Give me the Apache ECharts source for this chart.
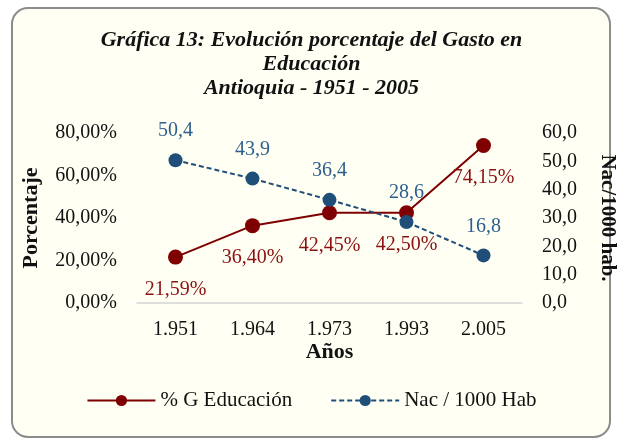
<!DOCTYPE html>
<html>
<head>
<meta charset="utf-8">
<script src="https://cdn.jsdelivr.net/npm/echarts@6/dist/echarts.min.js"></script>
<style>
  html, body { margin: 0; padding: 0; background: #fff; }
  #chart { width: 623px; height: 447px; }
</style>
</head>
<body>
<div id="chart"></div>
<script>
// datos
var years = ['1.951', '1.964', '1.973', '1.993', '2.005'];
var gastoEdu = [21.59, 36.40, 42.45, 42.50, 74.15];
var nacMil = [50.4, 43.9, 36.4, 28.6, 16.8];
var pctTicks = [0, 80, 20];   // min, max, intervalo
var nacTicks = [0, 60, 10];

var serif = '"Liberation Serif", "DejaVu Serif", serif';
var red = '#7F0000';
var blue = '#1F4E79';

function comma(v, d) {
  return v.toFixed(d).replace('.', ',');
}

var chart = echarts.init(document.getElementById('chart'));
chart.setOption({
  animation: false,
  textStyle: { fontFamily: serif },
  graphic: [{
    type: 'rect',
    z: -10,
    shape: { x: 12, y: 8, width: 598, height: 429, r: 16 },
    style: { fill: '#FFFFF4', stroke: '#8c8c8c', lineWidth: 2 }
  }],
  title: {
    text: 'Gráfica 13: Evolución porcentaje del Gasto en\nEducación\nAntioquia - 1951 - 2005',
    left: 'center',
    top: 28,
    padding: 0,
    textStyle: {
      fontFamily: serif, fontSize: 22, fontWeight: 'bold', fontStyle: 'italic',
      color: '#111', lineHeight: 24
    }
  },
  legend: {
    top: 385,
    left: 'center',
    itemWidth: 68,
    itemHeight: 14,
    itemGap: 38,
    textStyle: { fontFamily: serif, fontSize: 21, color: '#111' },
    data: ['% G Educación', 'Nac / 1000 Hab']
  },
  grid: { left: 137, right: 101, top: 133, bottom: 144, outerBoundsMode: 'none' },
  xAxis: {
    type: 'category',
    data: years,
    name: 'Años',
    nameLocation: 'middle',
    nameGap: 29,
    nameTextStyle: { fontFamily: serif, fontSize: 22, fontWeight: 'bold', color: '#111' },
    axisLine: { lineStyle: { color: '#d4d4d4', width: 1.5 } },
    axisTick: { show: false },
    axisLabel: { fontFamily: serif, fontSize: 20, color: '#111', margin: 17 }
  },
  yAxis: [{
    type: 'value',
    min: pctTicks[0], max: pctTicks[1], interval: pctTicks[2],
    name: 'Porcentaje',
    nameLocation: 'middle',
    nameGap: 95,
    nameRotate: 90,
    nameTextStyle: { fontFamily: serif, fontSize: 22, fontWeight: 'bold', color: '#111' },
    splitLine: { show: false },
    axisLine: { show: false },
    axisTick: { show: false },
    axisLabel: {
      fontFamily: serif, fontSize: 20, color: '#111', margin: 20,
      formatter: function (v) { return comma(v, 2) + '%'; }
    }
  }, {
    type: 'value',
    min: nacTicks[0], max: nacTicks[1], interval: nacTicks[2],
    name: 'Nac/1000 hab.',
    nameLocation: 'middle',
    nameGap: 75,
    nameRotate: -90,
    nameTextStyle: { fontFamily: serif, fontSize: 21, fontWeight: 'bold', color: '#111' },
    splitLine: { show: false },
    axisLine: { show: false },
    axisTick: { show: false },
    axisLabel: {
      fontFamily: serif, fontSize: 20, color: '#111', margin: 20,
      formatter: function (v) { return comma(v, 1); }
    }
  }],
  series: [{
    name: '% G Educación',
    type: 'line',
    yAxisIndex: 0,
    data: gastoEdu,
    symbol: 'circle',
    symbolSize: 15,
    lineStyle: { color: red, width: 2 },
    itemStyle: { color: red },
    label: {
      show: true, position: 'bottom', distance: 15,
      fontFamily: serif, fontSize: 20, color: '#8B1010',
      formatter: function (p) { return comma(p.value, 2) + '%'; }
    }
  }, {
    name: 'Nac / 1000 Hab',
    type: 'line',
    yAxisIndex: 1,
    data: nacMil,
    symbol: 'circle',
    symbolSize: 14,
    lineStyle: { color: blue, width: 2, type: [5, 3] },
    itemStyle: { color: blue },
    label: {
      show: true, position: 'top', distance: 12,
      fontFamily: serif, fontSize: 20, color: '#2D5F8E',
      formatter: function (p) { return comma(p.value, 1); }
    }
  }]
});
</script>
</body>
</html>
